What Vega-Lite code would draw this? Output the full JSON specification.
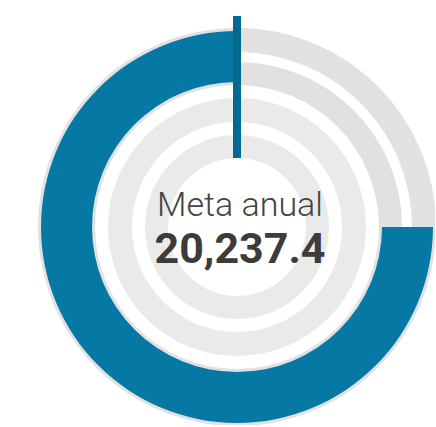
{
  "$schema": "https://vega.github.io/schema/vega-lite/v6.json",
  "width": 396,
  "height": 396,
  "autosize": {"type": "none"},
  "padding": {"left": 39, "top": 29, "right": 0, "bottom": 0},
  "background": "#ffffff",
  "config": {"view": {"stroke": null}},
  "layer": [
    {
      "data": {"values": [
        {"pista": "Pista 1", "desde": 0, "hasta": 100, "r_int": 87.5, "r_ext": 99.5},
        {"pista": "Pista 2", "desde": 0, "hasta": 100, "r_int": 71, "r_ext": 82.5}
      ]},
      "mark": {"type": "arc", "color": "#e1e1e1", "stroke": null},
      "encoding": {
        "theta": {"field": "desde", "type": "quantitative", "stack": null, "scale": {"domain": [0, 100], "range": [0, 6.283185307]}},
        "theta2": {"field": "hasta"},
        "radius": {"field": "r_ext", "type": "quantitative", "scale": {"type": "linear", "domain": [0, 99], "range": [0, 198], "zero": true}},
        "radius2": {"field": "r_int"}
      }
    },
    {
      "data": {"values": [
        {"pista": "Pista 3", "desde": 0, "hasta": 100, "r_int": 52.5, "r_ext": 64.5},
        {"pista": "Pista 4", "desde": 0, "hasta": 100, "r_int": 34.5, "r_ext": 46}
      ]},
      "mark": {"type": "arc", "color": "#eaeaea", "stroke": null},
      "encoding": {
        "theta": {"field": "desde", "type": "quantitative", "stack": null, "scale": {"domain": [0, 100], "range": [0, 6.283185307]}},
        "theta2": {"field": "hasta"},
        "radius": {"field": "r_ext", "type": "quantitative", "scale": {"type": "linear", "domain": [0, 99], "range": [0, 198], "zero": true}},
        "radius2": {"field": "r_int"}
      }
    },
    {
      "data": {"values": [
        {"serie": "Avance", "desde": 25, "hasta": 100, "r_int": 72.5, "r_ext": 98}
      ]},
      "mark": {"type": "arc", "color": "#0579a3", "stroke": null},
      "encoding": {
        "theta": {"field": "desde", "type": "quantitative", "stack": null, "scale": {"domain": [0, 100], "range": [0, 6.283185307]}},
        "theta2": {"field": "hasta"},
        "radius": {"field": "r_ext", "type": "quantitative", "scale": {"type": "linear", "domain": [0, 99], "range": [0, 198], "zero": true}},
        "radius2": {"field": "r_int"}
      }
    },
    {
      "data": {"values": [
        {"serie": "Meta", "angulo": 0, "desde": 34.5, "hasta": 105.5}
      ]},
      "mark": {"type": "rule", "color": "#006b8f", "strokeWidth": 8, "strokeCap": "butt"},
      "encoding": {
        "x": {"field": "angulo", "type": "quantitative", "axis": null, "scale": {"domain": [-99, 99], "nice": false, "zero": false}},
        "y": {"field": "desde", "type": "quantitative", "axis": null, "scale": {"domain": [-99, 99], "nice": false, "zero": false}},
        "y2": {"field": "hasta"}
      }
    },
    {
      "data": {"values": [{"texto": "Meta anual"}]},
      "mark": {"type": "text", "font": "Roboto", "fontSize": 34, "fontWeight": 300, "color": "#444444", "align": "center", "baseline": "alphabetic"},
      "encoding": {
        "x": {"datum": 1.5, "type": "quantitative", "axis": null, "scale": {"domain": [-99, 99], "nice": false, "zero": false}},
        "y": {"datum": 5.5, "type": "quantitative", "axis": null, "scale": {"domain": [-99, 99], "nice": false, "zero": false}},
        "text": {"field": "texto"}
      }
    },
    {
      "data": {"values": [{"valor": "20,237.4"}]},
      "mark": {"type": "text", "font": "Roboto", "fontSize": 43, "fontWeight": "bold", "color": "#3c3c3c", "align": "center", "baseline": "alphabetic"},
      "encoding": {
        "x": {"datum": 1.5, "type": "quantitative", "axis": null, "scale": {"domain": [-99, 99], "nice": false, "zero": false}},
        "y": {"datum": -18, "type": "quantitative", "axis": null, "scale": {"domain": [-99, 99], "nice": false, "zero": false}},
        "text": {"field": "valor"}
      }
    }
  ]
}
